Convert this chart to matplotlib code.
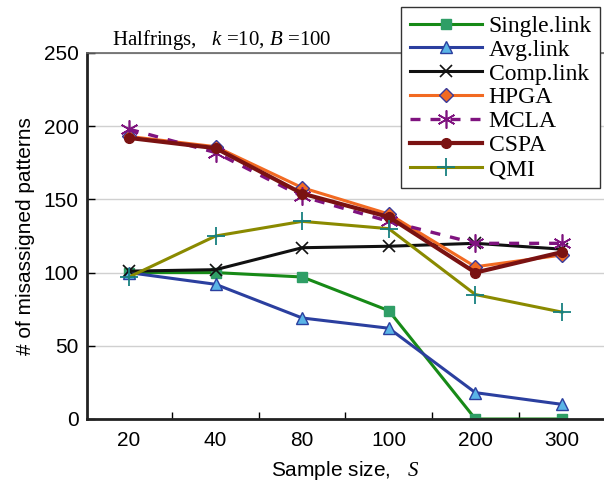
import matplotlib.pyplot as plt
import numpy as np

plt.rcParams['mathtext.fontset'] = 'custom'
plt.rcParams['mathtext.rm'] = 'Liberation Serif'
plt.rcParams['mathtext.it'] = 'Liberation Serif:italic'

sizes = ['20', '40', '80', '100', '200', '300']
single_link = [100, 100, 97, 74, 0, 0]
avg_link = [100, 92, 69, 62, 18, 10]
comp_link = [101, 102, 117, 118, 120, 116]
hpga = [193, 186, 158, 140, 104, 112]
mcla = [198, 182, 152, 135, 120, 120]
cspa = [192, 185, 154, 138, 100, 114]
qmi = [97, 125, 135, 130, 85, 73]

x = np.arange(len(sizes))

fig = plt.figure(figsize=(6.04, 4.83), dpi=100)
ax = fig.add_axes([87/604, 64/483, 517/604, 366/483])

ax.plot(x, single_link, color='#178a17', lw=2.2, marker='s', ms=6.5,
        mfc='#2f9e66', mec='#2f9e66', label='Single.link')
ax.plot(x, avg_link, color='#2b3f9f', lw=2.2, marker='^', ms=8,
        mfc='#5ab4e6', mec='#2b3f9f', mew=1, label='Avg.link')
ax.plot(x, comp_link, color='#111111', lw=2.2, marker='x', ms=8,
        mec='#111111', mew=1.2, label='Comp.link')
ax.plot(x, hpga, color='#f26a22', lw=2.2, marker='D', ms=7,
        mfc='#f26a22', mec='#3a3a9a', mew=1, label='HPGA')
ax.plot(x, mcla, color='#7f137f', lw=2.4, ls=(0, (3, 3)), marker=(6, 2, 0), ms=13,
        mec='#7f137f', mew=1.2, label='MCLA')
ax.plot(x, cspa, color='#7a1212', lw=3, marker='o', ms=7,
        mfc='#7a1212', mec='#7a1212', label='CSPA')
ax.plot(x, qmi, color='#8a8a00', lw=2.2, marker='+', ms=13,
        mec='#178080', mew=1.3, label='QMI')

fs = 15
ax.set_xlim(-0.485, 5.485)
ax.set_ylim(0, 250)
ax.set_xticks(x)
ax.set_xticklabels(sizes, fontsize=fs, family='Liberation Sans')
ax.set_xticks(x[:-1] + 0.5, minor=True)
ax.tick_params(axis='x', which='major', length=0, pad=9)
ax.tick_params(axis='x', which='minor', direction='in', length=5, width=1)
ax.set_yticks([0, 50, 100, 150, 200, 250])
ax.tick_params(axis='y', direction='in', length=6, width=1, labelsize=fs, pad=6)
for lab in ax.get_yticklabels():
    lab.set_family('Liberation Sans')

ax.grid(axis='y', color='#d0d0d0', lw=1)
ax.set_axisbelow(True)
for s in ['left', 'bottom']:
    ax.spines[s].set_linewidth(2)
    ax.spines[s].set_color('#222222')
ax.spines['top'].set_color('#666666')
ax.spines['top'].set_linewidth(1.2)
ax.spines['right'].set_visible(False)

ax.set_xlabel('Sample size,   $S$', fontsize=fs, family='Liberation Sans', labelpad=6)
ax.set_ylabel('# of misassigned patterns', fontsize=fs, family='Liberation Sans', labelpad=6)

fig.text(112/604, 1 - 45/483, 'Halfrings,   $k$ =10, $B$ =100', fontsize=15,
         family='Liberation Serif', va='baseline')

leg = ax.legend(loc='upper right', bbox_to_anchor=(513/517, 1 + 46/366),
                prop={'family': 'Liberation Serif', 'size': 17},
                handlelength=3.05, handletextpad=0.3, labelspacing=0.1,
                borderpad=0.35, borderaxespad=0, fancybox=False, framealpha=1,
                edgecolor='#333333')
leg.get_frame().set_linewidth(1)

fig.savefig('out.png', dpi=100)
